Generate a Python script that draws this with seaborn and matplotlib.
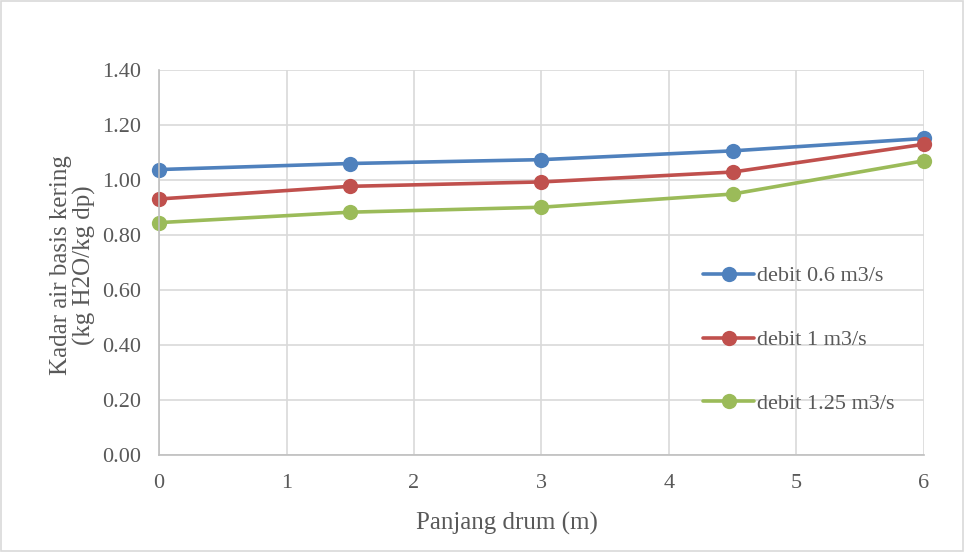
import matplotlib
matplotlib.use("Agg")
import matplotlib.pyplot as plt
import seaborn as sns
import pandas as pd
from matplotlib.patches import Rectangle

panjang = [0, 1.5, 3, 4.5, 6]
debit_06 = [1.038, 1.060, 1.074, 1.106, 1.151]
debit_1 = [0.931, 0.977, 0.993, 1.029, 1.130]
debit_125 = [0.845, 0.883, 0.901, 0.949, 1.070]
labels = ["debit 0.6 m3/s", "debit 1 m3/s", "debit 1.25 m3/s"]
colors = ["#4F81BD", "#C0504D", "#9BBB59"]
yticks = [0.0, 0.2, 0.4, 0.6, 0.8, 1.0, 1.2, 1.4]
xticks = [0, 1, 2, 3, 4, 5, 6]

rows = []
for lab, vals in zip(labels, [debit_06, debit_1, debit_125]):
    for x, v in zip(panjang, vals):
        rows.append({"x": x, "y": v, "series": lab})
df = pd.DataFrame(rows)

sns.set_theme(style="white")
plt.rcParams["font.family"] = ["Liberation Serif", "DejaVu Serif"]
text_color = "#595959"

fig = plt.figure(figsize=(9.64, 5.52), dpi=100)
ax = fig.add_axes([159/964, 1 - 455/552, (924-159)/964, (455-70)/552])

sns.lineplot(data=df, x="x", y="y", hue="series", hue_order=labels,
             palette=colors, marker="o", markersize=11, markeredgewidth=0,
             linewidth=2.6, ax=ax, legend=True)

ax.set_xlim(0, 6)
ax.set_ylim(0, 1.4)
ax.set_xticks(xticks)
ax.set_yticks(yticks)
ax.set_xticklabels([str(t) for t in xticks])
ax.set_yticklabels([f"{t:.2f}" for t in yticks])
ax.tick_params(axis="both", length=0, labelsize=16, labelcolor=text_color)
ax.tick_params(axis="x", pad=14)
ax.tick_params(axis="y", pad=13)
ax.grid(True, color="#D9D9D9", linewidth=1.2)
for s in ["top", "right"]:
    ax.spines[s].set_visible(False)
for s in ["left", "bottom"]:
    ax.spines[s].set_color("#BFBFBF")
    ax.spines[s].set_linewidth(1.2)
ax.set_axisbelow(True)
for line in ax.lines:
    line.set_clip_on(False)

ax.set_xlabel("")
ax.set_ylabel("")
fig.text(507/964, 1 - 523/552, "Panjang drum (m)", fontsize=18, color=text_color,
         ha="center", va="center")
fig.text(73/964, 1 - 265/552, "Kadar air basis kering\n(kg H2O/kg dp)", fontsize=18,
         color=text_color, ha="center", va="center", rotation=90,
         linespacing=1.05, multialignment="center")

leg = ax.legend(loc="center left", bbox_to_anchor=(683/964, 1 - 340/552),
                bbox_transform=fig.transFigure, frameon=False, fontsize=16,
                labelspacing=1.95, handlelength=2.3, handletextpad=0.15)
for t in leg.get_texts():
    t.set_color(text_color)

fig.patches.append(Rectangle((0.001, 0.001), 0.998, 0.998, transform=fig.transFigure,
                             fill=False, edgecolor="#D9D9D9", linewidth=1.2))

fig.savefig("out.png", dpi=100)
